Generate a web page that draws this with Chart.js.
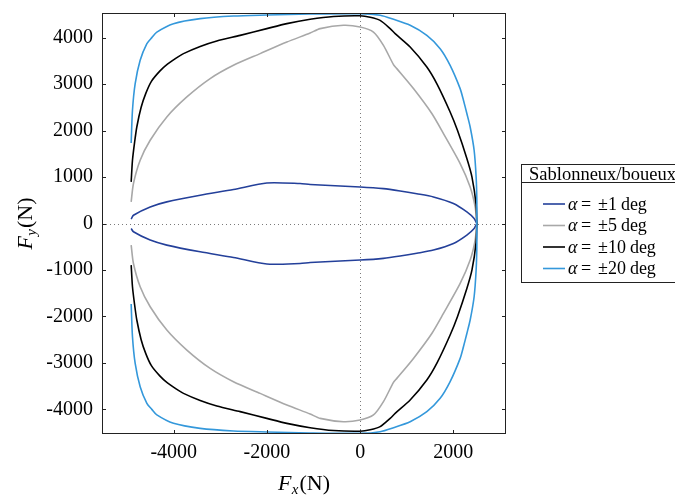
<!DOCTYPE html>
<html><head><meta charset="utf-8">
<script src="https://cdn.jsdelivr.net/npm/chart.js@4/dist/chart.umd.min.js"></script>
<style>html,body{margin:0;padding:0;background:#fff;overflow:hidden}canvas{display:block}</style>
</head><body>
<canvas id="c" width="675" height="495"></canvas>
<script>
// ---- data ----
const legendTitle = 'Sablonneux/boueux';
const seriesNumbers = ['1', '5', '10', '20'];
const seriesColors = ['#24409a', '#a8a8a8', '#000000', '#3498db'];
const xTickValues = [-4000, -2000, 0, 2000];
const yTickValues = [-4000, -3000, -2000, -1000, 0, 1000, 2000, 3000, 4000];

// alpha = ±1 deg
const fx1Up = [-4914,-4865,-4506,-4149,-3433,-2719,-2003,-1288,-1073,0,500,858,1216,1573,2002,2290,2446,2504];
const fy1Up = [92,178,357,465,609,731,873,860,839,787,750,700,640,572,430,249,108,0];
const fx1Lo = [2504,2446,2290,2002,1573,1216,858,500,0,-1073,-1288,-2003,-2719,-3433,-4149,-4506,-4865,-4914];
const fy1Lo = [0,-108,-249,-430,-572,-640,-700,-750,-787,-839,-860,-873,-731,-609,-465,-357,-178,-108];
// alpha = ±5 deg
const fx5Up = [-4914,-4865,-4721,-4506,-4149,-3719,-3219,-2719,-2146,-1573,-1073,-858,-358,0,286,500,715,787,1144,1538,1788,2146,2361,2468,2504];
const fy5Up = [465,860,1361,1791,2292,2723,3118,3404,3656,3905,4099,4194,4265,4228,4120,3834,3419,3333,2903,2366,1935,1290,787,357,0];
const fx5Lo = [2504,2468,2361,2146,1788,1538,1144,787,715,500,286,0,-358,-858,-1073,-1573,-2146,-2719,-3219,-3719,-4149,-4506,-4721,-4865,-4914];
const fy5Lo = [0,-357,-787,-1290,-1935,-2366,-2903,-3333,-3419,-3834,-4120,-4228,-4265,-4194,-4099,-3905,-3656,-3404,-3118,-2723,-2292,-1791,-1361,-860,-465];
// alpha = ±10 deg
const fx10Up = [-4914,-4886,-4840,-4793,-4700,-4600,-4480,-4300,-4149,-3950,-3791,-3433,-3076,-2575,-2003,-1573,-1073,-573,0,215,429,644,751,1073,1431,1650,1931,2090,2290,2400,2489,2504];
const fy10Up = [895,1361,1750,2077,2500,2800,3060,3280,3420,3560,3656,3810,3928,4049,4194,4301,4394,4455,4470,4440,4372,4194,4086,3798,3368,3000,2400,2000,1400,1000,400,0];
const fx10Lo = [2504,2489,2400,2290,2090,1931,1650,1431,1073,751,644,429,215,0,-573,-1073,-1573,-2003,-2575,-3076,-3433,-3791,-3950,-4149,-4300,-4480,-4600,-4700,-4793,-4840,-4886,-4914];
const fy10Lo = [0,-400,-1000,-1400,-2000,-2400,-3000,-3368,-3798,-4086,-4194,-4372,-4440,-4470,-4455,-4394,-4301,-4194,-4049,-3928,-3810,-3656,-3560,-3420,-3280,-3060,-2800,-2500,-2077,-1750,-1361,-895];
// alpha = ±20 deg
const fx20Up = [-4914,-4886,-4828,-4721,-4577,-4471,-4363,-4006,-3433,-2719,-2003,-1073,0,429,715,1073,1431,1717,1931,2146,2217,2290,2361,2446,2489,2504,2504];
const fy20Up = [1733,2437,3011,3512,3871,4000,4120,4301,4409,4465,4486,4508,4516,4480,4394,4265,4049,3763,3404,2903,2652,2366,2077,1576,1002,501,0];
const fx20Lo = [2504,2504,2489,2446,2361,2290,2217,2146,1931,1717,1431,1073,715,429,0,-1073,-2003,-2719,-3433,-4006,-4363,-4471,-4577,-4721,-4828,-4886,-4914];
const fy20Lo = [0,-501,-1002,-1576,-2077,-2366,-2652,-2903,-3404,-3763,-4049,-4265,-4394,-4480,-4516,-4508,-4486,-4465,-4409,-4301,-4120,-4000,-3871,-3512,-3011,-2437,-1733];

const xMin = -5540, xMax = 3130, yMin = -4530, yMax = 4530;

function pts(xu, yu, xl, yl) {
  return xu.map((x, i) => ({x, y: yu[i]})).concat(xl.map((x, i) => ({x, y: yl[i]})));
}
const allData = [
  pts(fx1Up, fy1Up, fx1Lo, fy1Lo),
  pts(fx5Up, fy5Up, fx5Lo, fy5Lo),
  pts(fx10Up, fy10Up, fx10Lo, fy10Lo),
  pts(fx20Up, fy20Up, fx20Lo, fy20Lo)
];

const SERIF = '"Liberation Serif", "DejaVu Serif", serif';

function drawParts(ctx, parts, x, y) {
  let cx = x;
  parts.forEach(p => {
    ctx.font = p.font;
    ctx.fillText(p.t, cx, y + (p.dy || 0));
    cx += ctx.measureText(p.t).width + (p.gap || 0);
  });
  return cx;
}
function partsWidth(ctx, parts) {
  let w = 0;
  parts.forEach(p => { ctx.font = p.font; w += ctx.measureText(p.t).width + (p.gap || 0); });
  return w;
}

const framePlugin = {
  id: 'frame',
  beforeDatasetsDraw(chart) {
    const {ctx, chartArea: a, scales: {x, y}} = chart;
    ctx.save();
    ctx.strokeStyle = '#7a7a7a';
    ctx.lineWidth = 1;
    ctx.setLineDash([1, 3]);
    const x0 = Math.round(x.getPixelForValue(0)) + 0.5;
    const y0 = Math.round(y.getPixelForValue(0)) + 0.5;
    ctx.beginPath(); ctx.moveTo(x0, a.top); ctx.lineTo(x0, a.bottom); ctx.stroke();
    ctx.beginPath(); ctx.moveTo(a.left, y0); ctx.lineTo(a.right, y0); ctx.stroke();
    ctx.restore();
  },
  afterDraw(chart) {
    const {ctx, chartArea: a, scales: {x, y}} = chart;
    ctx.save();
    // frame
    ctx.strokeStyle = '#222';
    ctx.lineWidth = 1;
    ctx.strokeRect(a.left + 0.5, a.top + 0.5, a.right - a.left - 1, a.bottom - a.top - 1);
    // inward ticks
    const tl = 4;
    ctx.beginPath();
    x.ticks.forEach(t => {
      const px = Math.round(x.getPixelForValue(t.value)) + 0.5;
      ctx.moveTo(px, a.bottom); ctx.lineTo(px, a.bottom - tl);
      ctx.moveTo(px, a.top); ctx.lineTo(px, a.top + tl);
    });
    y.ticks.forEach(t => {
      const py = Math.round(y.getPixelForValue(t.value)) + 0.5;
      ctx.moveTo(a.left, py); ctx.lineTo(a.left + tl, py);
      ctx.moveTo(a.right, py); ctx.lineTo(a.right - tl, py);
    });
    ctx.stroke();

    // axis titles
    ctx.fillStyle = '#000';
    ctx.textBaseline = 'alphabetic';
    ctx.textAlign = 'left';
    const fxParts = [
      {t: 'F', font: 'italic 22px ' + SERIF, gap: 0.5},
      {t: 'x', font: 'italic 15px ' + SERIF, dy: 4, gap: 1},
      {t: '(N)', font: '22px ' + SERIF}
    ];
    const wx = partsWidth(ctx, fxParts);
    drawParts(ctx, fxParts, (a.left + a.right) / 2 - wx / 2, 490);

    const fyParts = [
      {t: 'F', font: 'italic 22px ' + SERIF, gap: 0.5},
      {t: 'y', font: 'italic 15px ' + SERIF, dy: 4, gap: 1},
      {t: '(N)', font: '22px ' + SERIF}
    ];
    const wy = partsWidth(ctx, fyParts);
    ctx.save();
    ctx.translate(32, (a.top + a.bottom) / 2);
    ctx.rotate(-Math.PI / 2);
    drawParts(ctx, fyParts, -wy / 2, 0);
    ctx.restore();

    // legend
    const lx = 521.5, ly = 164.5, lw = 220, lh = 118;
    ctx.fillStyle = '#fff';
    ctx.fillRect(lx, ly, lw, lh);
    ctx.strokeStyle = '#222';
    ctx.lineWidth = 1;
    ctx.strokeRect(lx, ly, lw, lh);
    ctx.beginPath(); ctx.moveTo(lx, 182.5); ctx.lineTo(lx + lw, 182.5); ctx.stroke();
    ctx.fillStyle = '#000';
    ctx.font = '18.5px ' + SERIF;
    ctx.fillText(legendTitle, 529, 179.5);
    const rowY = [204, 225.5, 247, 268.5];
    chart.data.datasets.forEach((ds, i) => {
      const cy = rowY[i];
      ctx.strokeStyle = ds.borderColor;
      ctx.lineWidth = 1.6;
      ctx.beginPath(); ctx.moveTo(543, cy); ctx.lineTo(565, cy); ctx.stroke();
      ctx.fillStyle = '#000';
      const base = cy + 5.5;
      ctx.font = 'italic 18px ' + SERIF;
      ctx.fillText('α', 568, base);
      ctx.font = '18px ' + SERIF;
      ctx.fillText('=', 581, base);
      const numStr = '±' + seriesNumbers[i];
      ctx.fillText(numStr, 598, base);
      const nw = ctx.measureText(numStr).width;
      ctx.fillText('deg', 598 + nw + 4, base);
    });
    ctx.restore();
  }
};

const datasets = allData.map((d, i) => ({
  label: 'α = ±' + seriesNumbers[i] + ' deg',
  data: d,
  borderColor: seriesColors[i],
  backgroundColor: seriesColors[i],
  borderWidth: 1.6,
  showLine: true,
  fill: false,
  pointRadius: 0,
  tension: 0.25,
  order: 3 - i
}));

new Chart(document.getElementById('c'), {
  type: 'scatter',
  data: {datasets},
  options: {
    responsive: false,
    animation: false,
    devicePixelRatio: 1,
    layout: {padding: {top: 13, right: 169, left: 0, bottom: 0}},
    plugins: {legend: {display: false}, tooltip: {enabled: false}},
    scales: {
      x: {
        type: 'linear', min: xMin, max: xMax,
        grid: {display: false, drawTicks: false},
        border: {display: false},
        afterBuildTicks: s => { s.ticks = xTickValues.map(v => ({value: v})); },
        afterFit: s => { s.height = 61; s.paddingLeft = 0; s.paddingRight = 0; },
        ticks: {
          color: '#000', padding: 7, maxRotation: 0, autoSkip: false,
          font: {family: SERIF, size: 20},
          callback: v => String(v)
        }
      },
      y: {
        type: 'linear', min: yMin, max: yMax,
        grid: {display: false, drawTicks: false},
        border: {display: false},
        afterBuildTicks: s => { s.ticks = yTickValues.map(v => ({value: v})); },
        afterFit: s => { s.width = 102; s.paddingTop = 0; s.paddingBottom = 0; },
        ticks: {
          color: '#000', padding: 9, autoSkip: false,
          font: {family: SERIF, size: 20},
          callback: v => String(v)
        }
      }
    }
  },
  plugins: [framePlugin]
});
</script>
</body></html>
